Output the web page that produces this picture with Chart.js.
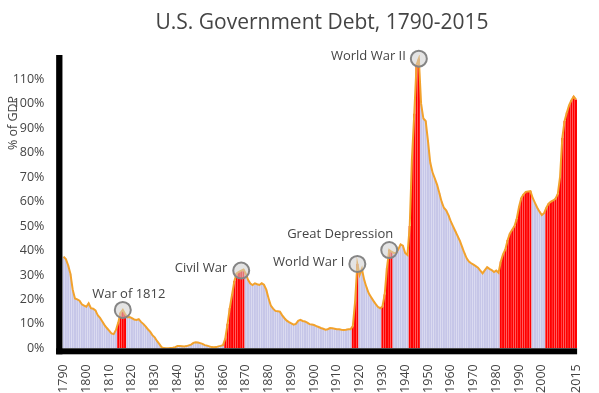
<!DOCTYPE html>
<html>
<head>
<meta charset="utf-8">
<title>U.S. Government Debt, 1790-2015</title>
<script src="https://cdn.jsdelivr.net/npm/chart.js@4.4.0/dist/chart.umd.min.js"></script>
<style>
  html, body { margin: 0; padding: 0; background: #fff; }
  #wrap { position: relative; width: 599px; height: 393px; }
</style>
</head>
<body>
<div id="wrap"><canvas id="debtChart" width="599" height="393"></canvas></div>
<script>
// ── Debt as % of GDP, one value per year 1790 … 2015
const debtPct = [
  37.5, 36.5, 34, 30.5, 24, 20.4, 20, 19.5, 18, 17.5,             // 1790s
  17, 18.4, 16.4, 16.2, 15.5, 13.5, 12.5, 11, 9.5, 8.3,            // 1800s
  7.2, 6.1, 5.8, 7.5, 10.5, 14.5, 15.7, 14, 12.7, 12.8,            // 1810s
  12.3, 11.8, 11.6, 11.9, 10.8, 10, 9, 7.8, 6.8, 5.4,              // 1820s
  4.5, 3, 1.8, 0.5, 0.1, 0, 0, 0.1, 0.2, 0.5,                      // 1830s
  0.9, 0.9, 0.8, 0.7, 0.9, 1.2, 1.5, 2.2, 2.5, 2.4,                // 1840s
  2.1, 1.8, 1.3, 1.1, 0.8, 0.5, 0.4, 0.5, 0.8, 1,                  // 1850s
  1.3, 4, 10, 16.5, 22, 27.5, 30.7, 31.3, 31.8, 32.2,              // 1860s
  30.5, 28, 26.5, 25.9, 26.6, 26.2, 25.9, 26.6, 26, 24,            // 1870s
  20.5, 17.5, 16.2, 15.3, 15.2, 15, 13.5, 12.3, 11.3, 10.7,        // 1880s
  10.2, 9.7, 10, 11.2, 11.6, 11.2, 11, 10.5, 9.9, 9.7,             // 1890s
  9.5, 9.1, 8.7, 8.3, 8, 7.6, 7.8, 8.3, 8.2, 8,                    // 1900s
  7.8, 7.8, 7.6, 7.5, 7.6, 7.8, 7.8, 9, 19, 34.5,                  // 1910s
  30, 32.5, 28, 25, 22.5, 21, 19.5, 18.2, 17, 16.4,                // 1920s
  17, 22, 33, 40.2, 39.5, 39, 39, 40.5, 42.5, 42,                  // 1930s
  39, 38.2, 50, 78, 96, 116, 118.5, 100, 94, 93,                   // 1940s
  85, 76, 72, 69.5, 67, 63.5, 60, 57.5, 56.5, 54.5,                // 1950s
  52, 50, 48, 46, 44, 41.5, 39, 36.8, 35.5, 34.8,                  // 1960s
  34.2, 33.6, 33, 31.8, 30.7, 32, 33.2, 32.5, 32, 31.2,            // 1970s
  31.8, 30.9, 35.5, 38.5, 40.5, 44.3, 47, 48.5, 50, 53,            // 1980s
  57.9, 61.5, 63, 64, 64.2, 64.3, 61.5, 59.5, 57.5, 55.9,          // 1990s
  54.5, 55.3, 57.5, 59.2, 60, 60.5, 61.2, 63, 70, 86,              // 2000s
  93, 96.5, 99.5, 101.5, 103, 101.8                                // 2010-2015
];
const years = debtPct.map((_, i) => 1790 + i);

// ── Year spans drawn in red
const redPeriods = [[1814, 1817], [1861, 1869], [1917, 1919], [1930, 1934],
                    [1942, 1946], [1982, 1995], [2002, 2015]];

// ── Years that get a tick label on the x axis
const tickYears = [1790, 1800, 1810, 1820, 1830, 1840, 1850, 1860, 1870, 1880,
                   1890, 1900, 1910, 1920, 1930, 1940, 1950, 1960, 1970, 1980,
                   1990, 2000, 2015];

// ── Circled peaks
const annoYears  = [1816, 1868, 1919, 1933, 1946];
const annoLabels = ['War of 1812', 'Civil War', 'World War I', 'Great Depression', 'World War II'];

// ── Style
const COLORS = {
  normal: '#c6c6e8',
  war:    '#ff0000',
  line:   '#f2a22c',
  text:   '#444444',
  ring:   '#858585',
};
const FONT = "'Open Sans', 'Noto Sans', sans-serif";
// label placement next to each circle: dx, dy from circle centre, text alignment
const ANNO_LAYOUT = [
  { dx: 6,   dy: -16, align: 'center' },
  { dx: -14, dy: -2,  align: 'right'  },
  { dx: -13, dy: -2,  align: 'right'  },
  { dx: 4,   dy: -16, align: 'right'  },
  { dx: -13, dy: -2,  align: 'right'  },
];

const isRed = yr => redPeriods.some(([a, b]) => yr >= a && yr <= b);
const barColors = years.map(yr => isRed(yr) ? COLORS.war : COLORS.normal);

// ── Axis bars, circles, labels and titles
const decorPlugin = {
  id: 'decor',
  afterDatasetsDraw(chart) {
    const { ctx, chartArea: a, scales: { x, y } } = chart;
    ctx.save();

    // thick black axes
    ctx.fillStyle = '#000';
    ctx.fillRect(a.left - 6.3, a.top, 6.3, a.bottom - a.top + 6);
    ctx.fillRect(a.left - 6.3, a.bottom, a.right - a.left + 6.3, 6);

    // circles + their labels
    ctx.font = '13px ' + FONT;
    ctx.textBaseline = 'middle';
    annoYears.forEach((yr, k) => {
      const i  = years.indexOf(yr);
      const cx = x.getPixelForValue(i);
      const cy = y.getPixelForValue(debtPct[i]);
      ctx.beginPath();
      ctx.arc(cx, cy, 8, 0, Math.PI * 2);
      ctx.fillStyle = 'rgba(205,205,205,0.55)';
      ctx.fill();
      ctx.lineWidth = 2;
      ctx.strokeStyle = COLORS.ring;
      ctx.stroke();

      const l = ANNO_LAYOUT[k];
      ctx.fillStyle = COLORS.text;
      ctx.textAlign = l.align;
      ctx.fillText(annoLabels[k], cx + l.dx, cy + l.dy);
    });

    // y axis title
    ctx.save();
    ctx.font = '12.5px ' + FONT;
    ctx.translate(13, 123);
    ctx.rotate(-Math.PI / 2);
    ctx.textAlign = 'center';
    ctx.fillStyle = COLORS.text;
    ctx.fillText('% of GDP', 0, 0);
    ctx.restore();

    // chart title
    ctx.font = '21px ' + FONT;
    ctx.textAlign = 'center';
    ctx.textBaseline = 'alphabetic';
    ctx.fillStyle = COLORS.text;
    ctx.fillText('U.S. Government Debt, 1790-2015', 322, 28.5);

    ctx.restore();
  }
};

new Chart(document.getElementById('debtChart'), {
  data: {
    labels: years.map(String),
    datasets: [
      {
        type: 'line',
        data: debtPct,
        borderColor: COLORS.line,
        borderWidth: 2,
        pointRadius: 0,
        tension: 0,
        order: 0,
      },
      {
        type: 'bar',
        data: debtPct,
        backgroundColor: barColors,
        barPercentage: 0.9,
        categoryPercentage: 1,
        order: 1,
      },
    ],
  },
  options: {
    responsive: false,
    animation: false,
    layout: { padding: { top: 55, right: 17.2, left: 0, bottom: 0 } },
    plugins: {
      legend: { display: false },
      tooltip: { enabled: false },
    },
    scales: {
      x: {
        offset: true,
        grid: { display: false },
        border: { display: false },
        afterFit: s => { s.height = 44.7; },
        ticks: {
          autoSkip: false,
          maxRotation: 90,
          minRotation: 90,
          padding: 8,
          color: COLORS.text,
          font: { family: FONT, size: 12.5 },
          callback: (v, i) => tickYears.includes(years[i]) ? String(years[i]) : '',
        },
      },
      y: {
        min: 0,
        max: 120,
        grid: { display: false },
        border: { display: false },
        afterFit: s => { s.width = 62.45; },
        ticks: {
          stepSize: 10,
          padding: 10,
          color: COLORS.text,
          font: { family: FONT, size: 12.5 },
          callback: v => v >= 120 ? '' : v + '%',
        },
      },
    },
  },
  plugins: [decorPlugin],
});
</script>
</body>
</html>
